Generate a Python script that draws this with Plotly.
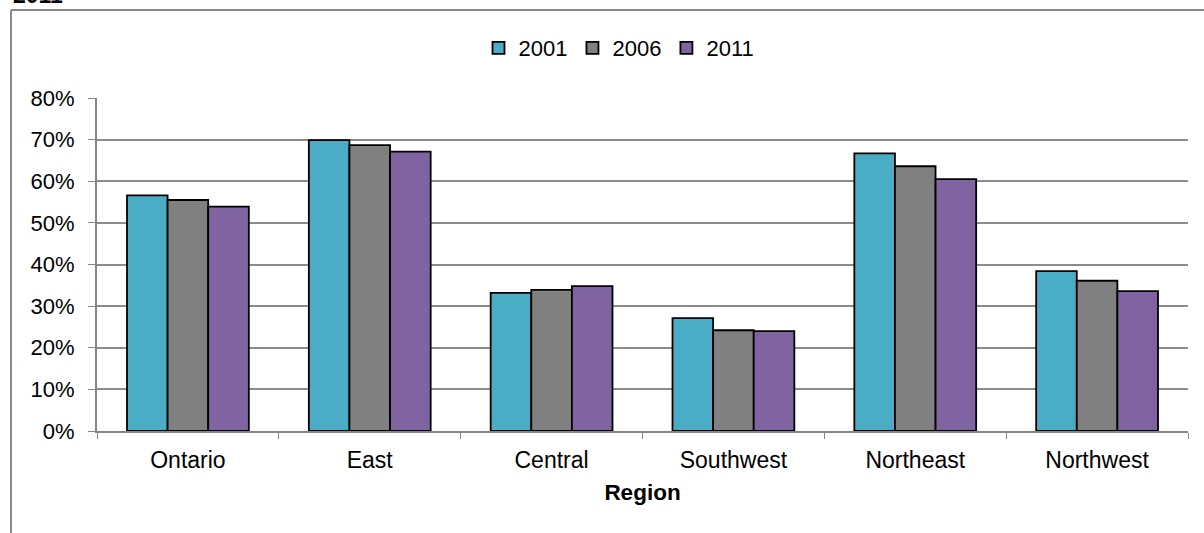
import plotly.graph_objects as go

regions = ["Ontario", "East", "Central", "Southwest", "Northeast", "Northwest"]
years = ["2001", "2006", "2011"]
v2001 = [0.566, 0.699, 0.332, 0.271, 0.667, 0.384]
v2006 = [0.555, 0.687, 0.339, 0.242, 0.636, 0.361]
v2011 = [0.539, 0.671, 0.348, 0.240, 0.605, 0.336]
colors = ["#4BACC6", "#808080", "#8064A2"]
y_ticks = [0, 0.1, 0.2, 0.3, 0.4, 0.5, 0.6, 0.7, 0.8]

W, H = 1204, 533
L, R, T, B = 97, 16, 98, 102
pw, ph = W - L - R, H - T - B

def px_x(x):
    return (x - L) / pw

def px_y(y):
    return (H - B - y) / ph

FONT = "Liberation Sans, Arial, sans-serif"

fig = go.Figure()
for name, vals, col in zip(years, [v2001, v2006, v2011], colors):
    fig.add_trace(go.Bar(
        x=regions, y=vals, name=name,
        marker=dict(color=col, line=dict(color="#000000", width=1.8)),
    ))

fig.update_layout(
    width=W, height=H,
    margin=dict(l=L, r=R, t=T, b=B, pad=0),
    paper_bgcolor="white", plot_bgcolor="white",
    barmode="group", bargap=0.33, bargroupgap=0,
    font=dict(family=FONT, size=22, color="#000000"),
    showlegend=True,
    legend=dict(orientation="h", x=px_x(619), xanchor="center",
                y=px_y(48), yanchor="middle",
                font=dict(size=22), itemwidth=30, tracegroupgap=0,
                bgcolor="rgba(0,0,0,0)"),
    xaxis=dict(
        tickson="boundaries", ticks="outside", ticklen=6, tickcolor="#868686",
        showline=True, linecolor="#868686", linewidth=2,
        showgrid=False, tickfont=dict(size=23), ticklabelstandoff=7,
        title=dict(text="<b>Region</b>", font=dict(size=22.5), standoff=13),
    ),
    yaxis=dict(
        range=[0, 0.8], tickvals=y_ticks, tickformat=".0%",
        ticks="outside", ticklen=7, tickcolor="#868686",
        showline=True, linecolor="#868686", linewidth=2,
        showgrid=True, gridcolor="#8c8c8c", gridwidth=1.5,
        zeroline=False, tickfont=dict(size=22), ticklabelstandoff=9,
    ),
)

# outer chart frame (partially visible)
fig.add_shape(type="line", xref="paper", yref="paper",
              x0=px_x(11), x1=px_x(11), y0=px_y(560), y1=px_y(10),
              line=dict(color="#8a8a8a", width=2))
fig.add_shape(type="line", xref="paper", yref="paper",
              x0=px_x(11), x1=px_x(1230), y0=px_y(10), y1=px_y(10),
              line=dict(color="#8a8a8a", width=2))

fig.add_annotation(text="<b>2011</b>", xref="paper", yref="paper",
                   x=px_x(11), xanchor="left", y=px_y(-5), yanchor="middle",
                   showarrow=False, font=dict(size=23, color="#000000"))

fig.write_html("out.html", config={"displayModeBar": False},
               post_script="document.body.style.margin='0';")
